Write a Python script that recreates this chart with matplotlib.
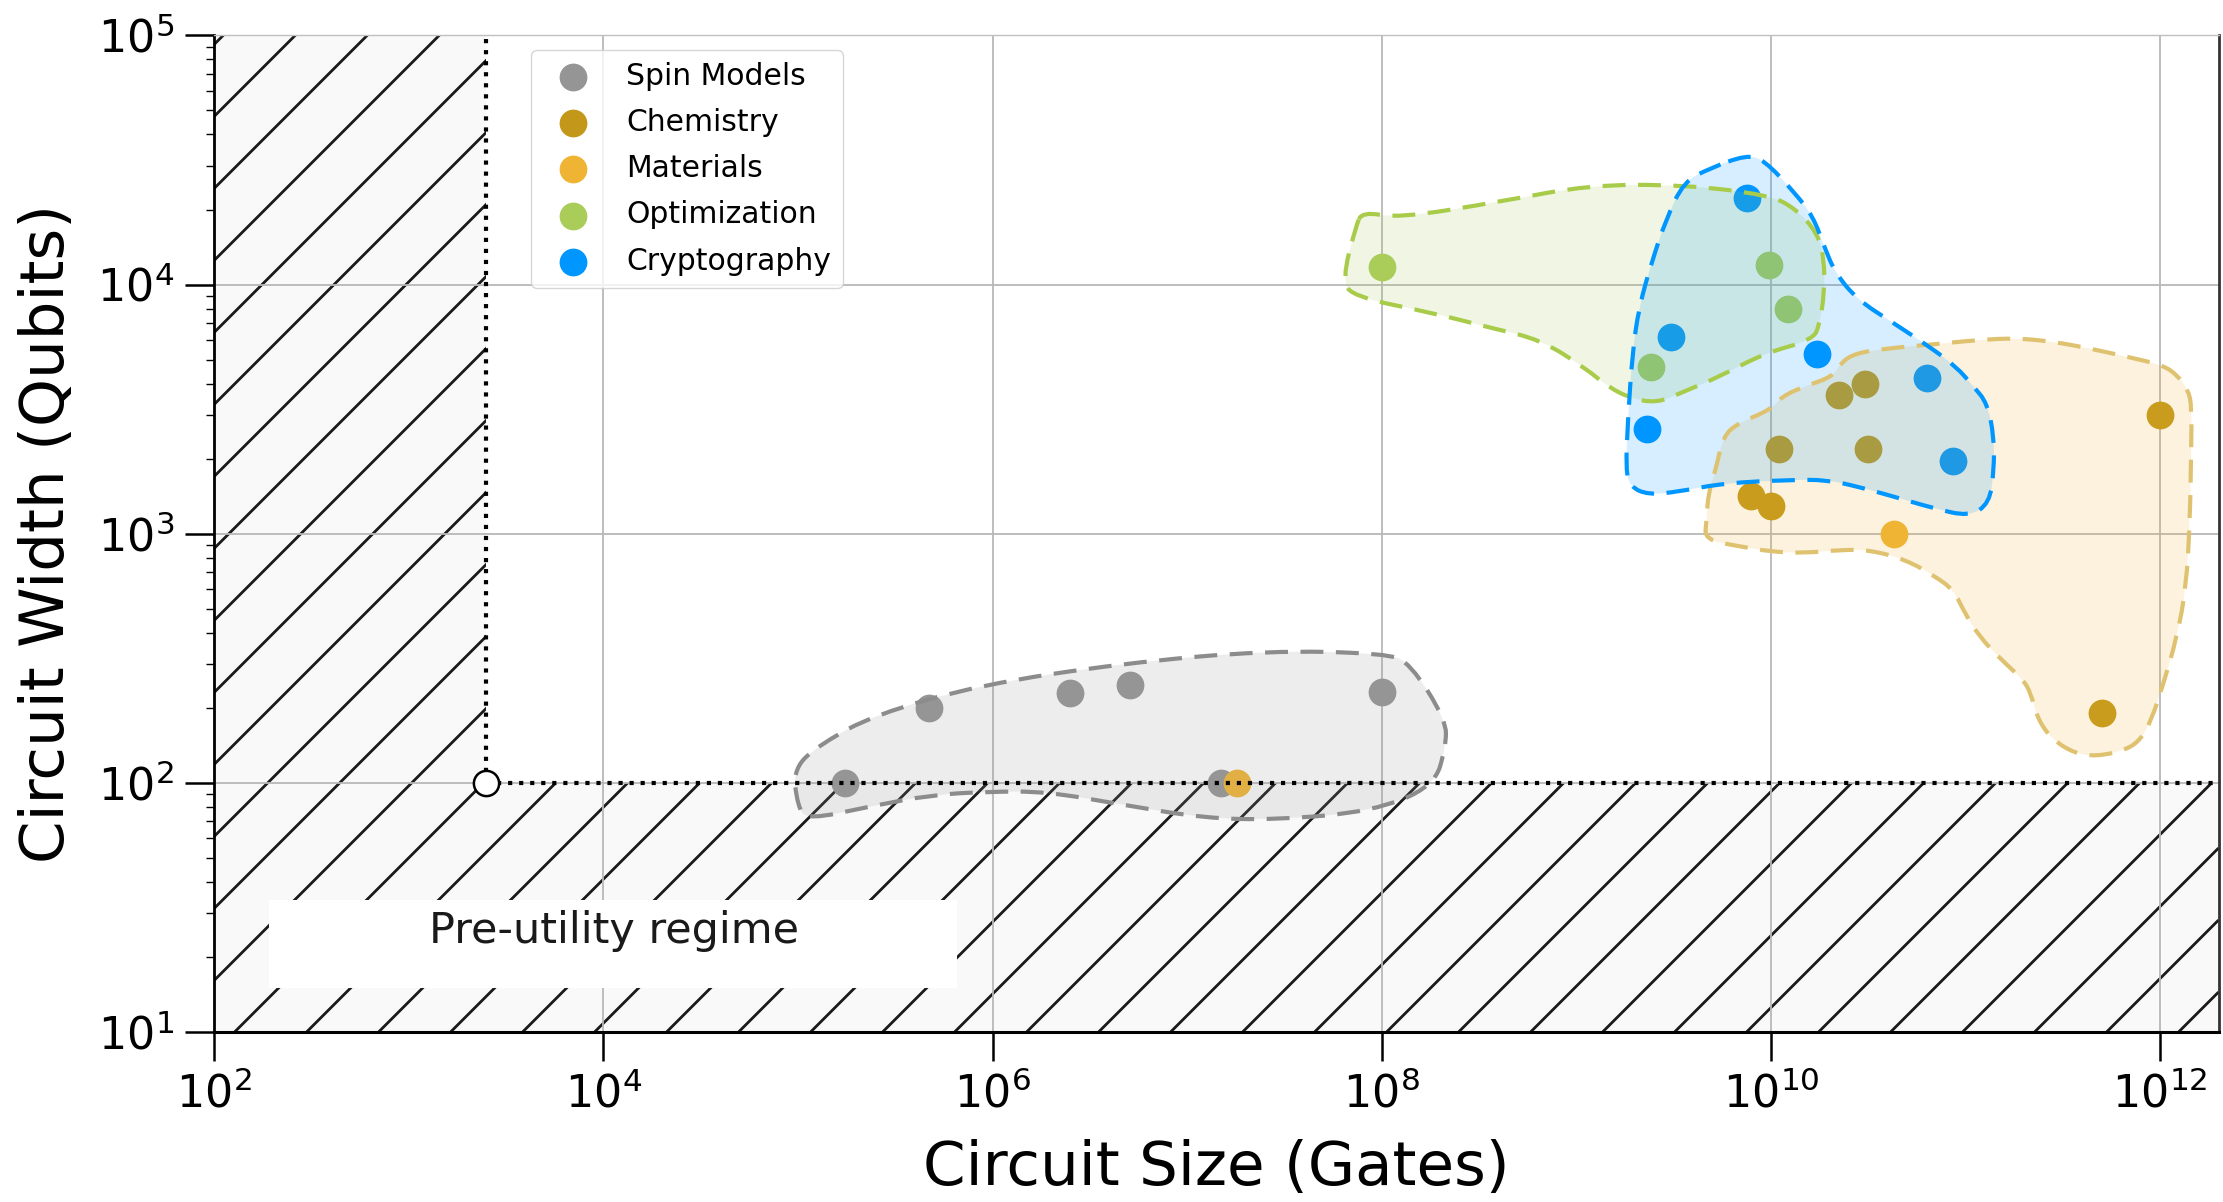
import numpy as np
import matplotlib
matplotlib.use("Agg")
import matplotlib.pyplot as plt
from matplotlib.path import Path
from matplotlib.patches import PathPatch, Polygon, Rectangle
from matplotlib.collections import LineCollection
from matplotlib.ticker import NullLocator, LogLocator

# ---- points (circuit size in gates, circuit width in qubits) ----
spin_x = [1.75e5, 4.7e5, 2.5e6, 5.1e6, 1.0e8, 1.5e7]
spin_y = [100, 200, 230, 248, 232, 100]

chem_x = [7.9e9, 1.0e10, 1.1e10, 2.25e10, 3.05e10, 3.15e10, 5.0e11, 1.0e12]
chem_y = [1420, 1290, 2180, 3590, 3990, 2180, 190, 2990]

mat_x = [1.8e7, 4.3e10]
mat_y = [100, 1000]

opt_x = [1.0e8, 9.8e9, 1.22e10, 2.43e9]
opt_y = [11800, 12000, 8000, 4650]

crypto_x = [7.5e9, 3.07e9, 1.73e10, 2.3e9, 6.3e10, 8.65e10]
crypto_y = [22200, 6150, 5250, 2620, 4200, 1960]

# pre-utility threshold corner
utility_gates = 2.5e3
utility_qubits = 100

# ---- hand drawn group outlines (log10 gates, log10 qubits) ----
spin_hull_lx = [4.975, 4.999, 5.049, 5.368, 5.688, 5.983, 6.278, 6.671, 7.089, 7.458, 7.949,
                8.269, 8.330, 8.330, 8.146, 8.023, 7.408, 6.671, 5.934, 5.393, 5.123]
spin_hull_ly = [2.059, 1.905, 1.852, 1.905, 1.952, 1.965, 1.965, 1.912, 1.858, 1.852, 1.885,
                1.985, 2.146, 2.253, 2.480, 2.520, 2.531, 2.480, 2.393, 2.273, 2.159]

opt_hull_lx = [7.900, 8.084, 8.611, 9.070, 9.552, 9.988, 10.125, 10.240, 10.274, 10.274, 10.251,
               10.217, 9.965, 9.735, 9.552, 9.414, 9.277, 9.162, 9.047, 8.818, 8.566, 8.267,
               7.855, 7.797, 7.866]
opt_hull_ly = [4.293, 4.266, 4.333, 4.400, 4.400, 4.360, 4.306, 4.206, 4.099, 3.965, 3.845,
               3.778, 3.724, 3.630, 3.570, 3.524, 3.544, 3.590, 3.664, 3.778, 3.825, 3.885,
               3.951, 4.018, 4.232]

crypto_hull_lx = [9.873, 9.965, 10.125, 10.217, 10.274, 10.331, 10.446, 10.630, 10.813, 10.951,
                  11.042, 11.111, 11.146, 11.146, 11.123, 11.019, 10.836, 10.630, 10.446, 10.286,
                  10.102, 9.758, 9.529, 9.368, 9.277, 9.254, 9.265, 9.288, 9.322, 9.391,
                  9.460, 9.552, 9.689]
crypto_hull_ly = [4.520, 4.500, 4.366, 4.272, 4.152, 4.045, 3.938, 3.845, 3.751, 3.671,
                  3.590, 3.524, 3.390, 3.256, 3.122, 3.069, 3.102, 3.149, 3.189, 3.216,
                  3.216, 3.203, 3.169, 3.156, 3.189, 3.256, 3.457, 3.724, 3.911, 4.099,
                  4.259, 4.413, 4.467]

chem_hull_lx = [10.431, 10.601, 10.808, 11.071, 11.259, 11.447, 11.636, 11.824, 12.012, 12.087,
                12.144, 12.162, 12.159, 12.153, 12.134, 12.087, 12.012, 11.955, 11.899, 11.824,
                11.673, 11.560, 11.447, 11.372, 11.335, 11.297, 11.184, 11.071, 10.996, 10.939,
                10.845, 10.695, 10.507, 10.356, 10.167, 9.998, 9.848, 9.659, 9.669, 9.678,
                9.716, 9.754, 9.829, 9.998, 10.055, 10.167, 10.318, 10.356]
chem_hull_ly = [3.724, 3.744, 3.758, 3.778, 3.785, 3.771, 3.744, 3.711, 3.677, 3.637,
                3.577, 3.510, 3.323, 3.055, 2.788, 2.587, 2.386, 2.253, 2.173, 2.132,
                2.106, 2.119, 2.173, 2.253, 2.360, 2.413, 2.494, 2.587, 2.681, 2.774,
                2.828, 2.895, 2.935, 2.935, 2.922, 2.928, 2.948, 2.975, 3.055, 3.163,
                3.256, 3.390, 3.443, 3.497, 3.550, 3.590, 3.630, 3.684]

GRAY = "#959595"
CHEM = "#C3981A"
MAT = "#F0B434"
OPT = "#AACD5A"
CRYPTO = "#0096FF"


def smooth_hull(lx, ly):
    # closed quadratic b-spline through the outline control points (log space)
    p = np.column_stack([lx, ly])
    mid = (p + np.roll(p, -1, axis=0)) / 2
    verts = [mid[-1]]
    codes = [Path.MOVETO]
    for i in range(len(p)):
        verts += [p[i], mid[i]]
        codes += [Path.CURVE3, Path.CURVE3]
    return Path(10 ** np.array(verts), codes)


fig = plt.figure(figsize=(22.23, 12.02), dpi=100)
ax = fig.add_axes([0.0963, 0.1414, 0.9017, 0.8292])
ax.set_xscale("log")
ax.set_yscale("log")
x_lo, x_hi = 1e2, 10 ** 12.3
y_lo, y_hi = 1e1, 1e5
ax.set_xlim(x_lo, x_hi)
ax.set_ylim(y_lo, y_hi)

# hatched "pre-utility" L-shaped region
region = Polygon([(x_lo, y_lo), (x_hi, y_lo), (x_hi, utility_qubits), (utility_gates, utility_qubits),
                  (utility_gates, y_hi), (x_lo, y_hi)], closed=True,
                 facecolor="#f9f9f9", edgecolor="none", zorder=0.2)
ax.add_patch(region)
W = fig.get_figwidth() * fig.dpi * ax.get_position().width
H = fig.get_figheight() * fig.dpi * ax.get_position().height
step = 72.0
offs = np.arange(-W, H + step, step) + 40
segs = [[(0, c / H), (1, (W + c) / H)] for c in offs]
hatch = LineCollection(segs, colors="#1a1a1a", linewidths=2.0, transform=ax.transAxes, zorder=0.3)
ax.add_collection(hatch)
hatch.set_clip_path(region)

# points
ax.scatter(spin_x, spin_y, s=400, c=GRAY, linewidths=0, zorder=2, label="Spin Models")
ax.scatter(chem_x, chem_y, s=400, c=CHEM, linewidths=0, zorder=2, label="Chemistry")
ax.scatter(mat_x, mat_y, s=400, c=MAT, linewidths=0, zorder=2, label="Materials")
ax.scatter(opt_x, opt_y, s=400, c=OPT, linewidths=0, zorder=2, label="Optimization")
ax.scatter(crypto_x, crypto_y, s=400, c=CRYPTO, linewidths=0, zorder=2, label="Cryptography")

# group outlines, translucent fills drawn over the points
hulls = [
    (spin_hull_lx, spin_hull_ly, GRAY, "#8c8c8c", 0.16),
    (chem_hull_lx, chem_hull_ly, MAT, "#dfc26f", 0.16),
    (opt_hull_lx, opt_hull_ly, OPT, "#a8cc4a", 0.17),
    (crypto_hull_lx, crypto_hull_ly, CRYPTO, CRYPTO, 0.16),
]
for lx, ly, fc, ec, a in hulls:
    path = smooth_hull(lx, ly)
    ax.add_patch(PathPatch(path, facecolor=fc, edgecolor="none", alpha=a, zorder=3))
    ax.add_patch(PathPatch(path, fill=False, edgecolor=ec, lw=3, linestyle=(0, (5.5, 3.0)), zorder=4))

# threshold lines
ax.vlines(utility_gates, utility_qubits, y_hi, colors="black", linestyles=":", lw=3.0, zorder=5)
ax.hlines(utility_qubits, utility_gates, x_hi, colors="black", linestyles=":", lw=3.0, zorder=5)
ax.scatter([utility_gates], [utility_qubits], s=330, facecolors="white", edgecolors="black",
           linewidths=1.8, zorder=6)

# label box
ax.add_patch(Rectangle((0.0274, 0.0441), 0.3432, 0.0883, transform=ax.transAxes,
                       facecolor="white", edgecolor="none", zorder=5))
ax.text(0.1995, 0.089, "Pre-utility regime", transform=ax.transAxes, ha="center", va="baseline",
        fontsize=31, color="#1a1a1a", zorder=6)

# axes styling
ax.set_xticks([10.0 ** k for k in range(2, 13, 2)])
ax.xaxis.set_minor_locator(NullLocator())
ax.yaxis.set_major_locator(LogLocator(base=10))
ax.yaxis.set_minor_locator(LogLocator(base=10, subs=np.arange(2, 10)))
ax.tick_params(which="major", labelsize=32, length=21, width=1.8, pad=8)
ax.tick_params(which="minor", length=6, width=1.0)
ax.set_axisbelow(True)
ax.grid(True, which="major", color="#b8b8b8", lw=1.3)
ax.spines["left"].set_linewidth(2)
ax.spines["bottom"].set_linewidth(2.2)
ax.spines["right"].set_color("#333333")
ax.spines["right"].set_linewidth(2)
ax.spines["top"].set_color("#c0c0c0")
ax.spines["top"].set_linewidth(1)

ax.set_xlabel("Circuit Size (Gates)", fontsize=44, labelpad=16)
ax.set_ylabel("Circuit Width (Qubits)", fontsize=44, labelpad=14)

ax.legend(loc="upper left", bbox_to_anchor=(0.158, 0.9857), borderaxespad=0, fontsize=21.5,
          labelspacing=0.58, scatterpoints=1)

fig.savefig("out.png", dpi=100)
